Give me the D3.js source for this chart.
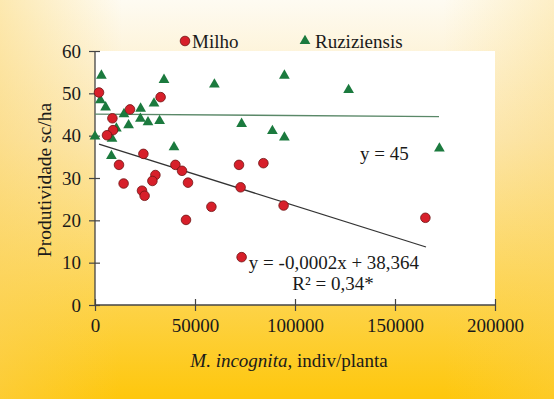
<!DOCTYPE html>
<html>
<head>
<meta charset="utf-8">
<script src="https://cdn.jsdelivr.net/npm/d3@7"></script>
<style>
  body { margin: 0; }
  text { font-family: "Liberation Serif", "Times New Roman", serif; fill: #1a1a1a; }
</style>
</head>
<body>
<div id="container"></div>
<script>
// Produtividade x M. incognita (Milho vs Ruziziensis)

const milhoX = [2000, 32800, 17500, 8700, 9000, 6000, 24200, 12000, 40200, 43500, 14300, 30200,
    28700, 23500, 24800, 45500, 46500, 72000, 84200, 72800, 94300, 58200, 73300, 165200]
const milhoY = [50.2, 49.1, 46.2, 44.1, 41.3, 40.1, 35.7, 33.1, 33.1, 31.7, 28.7, 30.7,
    29.3, 27.0, 25.8, 20.1, 28.9, 33.1, 33.5, 27.8, 23.5, 23.2, 11.3, 20.6]

const ruziX = [3200, 34500, 2700, 5300, 14500, 22800, 29500, 22700, 26500, 32300, 16800, 10700,
    0, 8500, 39500, 8200, 59700, 94700, 73300, 88700, 94700, 126800, 172200]
const ruziY = [54.2, 53.2, 48.4, 46.7, 45.1, 46.4, 47.6, 44.0, 43.2, 43.5, 42.5, 41.7,
    39.8, 39.3, 37.3, 35.2, 52.1, 54.2, 42.8, 41.1, 39.6, 50.8, 37.0]

// trend line end points
const milhoTrend = [[2000, 38.0], [165500, 13.7]]
const ruziTrend = [[0, 45.1], [172000, 44.5]]

const xTicks = [0, 50000, 100000, 150000, 200000]
const yTicks = [0, 10, 20, 30, 40, 50, 60]

const width = 554,
    height = 399
const plot = { left: 95, right: 495, top: 51, bottom: 305 }
const fontSize = "19px"

const svg = d3.select("#container").append("svg")
    .attr("width", width)
    .attr("height", height)

const defs = svg.append("defs")
const bg = defs.append("linearGradient").attr("id", "bg")
    .attr("x1", 0).attr("y1", 0).attr("x2", 0).attr("y2", 1)
bg.append("stop").attr("offset", "0%").attr("stop-color", "#fefbf2")
bg.append("stop").attr("offset", "35%").attr("stop-color", "#fce8b4")
bg.append("stop").attr("offset", "70%").attr("stop-color", "#fdd658")
bg.append("stop").attr("offset", "100%").attr("stop-color", "#fec70c")

const side = defs.append("linearGradient").attr("id", "side")
    .attr("x1", 0).attr("y1", 0).attr("x2", 1).attr("y2", 0)
side.append("stop").attr("offset", "0%").attr("stop-color", "#fbd260").attr("stop-opacity", 0.45)
side.append("stop").attr("offset", "22%").attr("stop-color", "#fbd260").attr("stop-opacity", 0)
side.append("stop").attr("offset", "80%").attr("stop-color", "#fbd260").attr("stop-opacity", 0)
side.append("stop").attr("offset", "100%").attr("stop-color", "#fbd260").attr("stop-opacity", 0.3)

svg.append("rect").attr("width", width).attr("height", height).attr("fill", "url(#bg)")
svg.append("rect").attr("width", width).attr("height", height).attr("fill", "url(#side)")

const x = d3.scaleLinear().domain([0, 200000]).range([plot.left, plot.right])
const y = d3.scaleLinear().domain([0, 60]).range([plot.bottom, plot.top])

svg.append("rect")
    .attr("x", plot.left).attr("y", plot.top)
    .attr("width", plot.right - plot.left).attr("height", plot.bottom - plot.top)
    .attr("fill", "white")

// axes
const xAxis = svg.append("g")
    .attr("transform", `translate(0,${plot.bottom})`)
    .call(d3.axisBottom(x).tickValues(xTicks).tickFormat(d3.format("d")).tickSize(6).tickPadding(8))
xAxis.selectAll(".tick line").attr("y1", -6)

const yAxis = svg.append("g")
    .attr("transform", `translate(${plot.left},0)`)
    .call(d3.axisLeft(y).tickValues(yTicks).tickSize(6).tickPadding(8))
yAxis.selectAll(".tick line").attr("x1", 5)

svg.selectAll(".domain").attr("stroke", "#444").attr("stroke-width", 1.3)
svg.selectAll(".tick line").attr("stroke", "#444").attr("stroke-width", 1.2)
svg.selectAll(".tick text")
    .style("font-family", "'Liberation Serif', 'Times New Roman', serif")
    .style("font-size", fontSize)
    .attr("fill", "#1a1a1a")
xAxis.selectAll(".domain").attr("d", `M${plot.left},0H${plot.right}`)
yAxis.selectAll(".domain").attr("d", `M0,${plot.bottom}V${plot.top}`)

// trend lines
const line = d3.line().x(d => x(d[0])).y(d => y(d[1]))
svg.append("path").datum(ruziTrend).attr("d", line)
    .attr("stroke", "#5a8868").attr("stroke-width", 1.3).attr("fill", "none")
svg.append("path").datum(milhoTrend).attr("d", line)
    .attr("stroke", "#333").attr("stroke-width", 1.3).attr("fill", "none")

// points
const tri = d3.symbol().type(d3.symbolTriangle).size(50)
svg.append("g").selectAll("path")
    .data(d3.zip(ruziX, ruziY))
    .enter().append("path")
    .attr("d", tri)
    .attr("transform", d => `translate(${x(d[0])},${y(d[1])})`)
    .attr("fill", "#1b7a3e")

svg.append("g").selectAll("circle")
    .data(d3.zip(milhoX, milhoY))
    .enter().append("circle")
    .attr("cx", d => x(d[0]))
    .attr("cy", d => y(d[1]))
    .attr("r", 4.8)
    .attr("fill", "#d71f2a")
    .attr("stroke", "#6e1414")
    .attr("stroke-width", 0.8)

// legend
const legend = svg.append("g").style("font-size", fontSize)
legend.append("circle").attr("cx", 185).attr("cy", 41).attr("r", 4.8)
    .attr("fill", "#d71f2a").attr("stroke", "#6e1414").attr("stroke-width", 0.8)
legend.append("text").attr("x", 192).attr("y", 48).text("Milho")
legend.append("path").attr("d", tri).attr("transform", "translate(305,41)").attr("fill", "#1b7a3e")
legend.append("text").attr("x", 315).attr("y", 48).text("Ruziziensis")

// equations
svg.append("text").attr("x", 360).attr("y", 160).style("font-size", fontSize).text("y = 45")
svg.append("text").attr("x", 334).attr("y", 269).attr("text-anchor", "middle")
    .style("font-size", fontSize).text("y = -0,0002x + 38,364")
svg.append("text").attr("x", 333).attr("y", 290).attr("text-anchor", "middle")
    .style("font-size", fontSize).text("R² = 0,34*")

// axis titles
svg.append("text")
    .attr("transform", `translate(51,180) rotate(-90)`)
    .attr("text-anchor", "middle")
    .style("font-size", "19.5px")
    .text("Produtividade sc/ha")

const xt = svg.append("text").attr("x", 289).attr("y", 367).attr("text-anchor", "middle")
    .style("font-size", fontSize)
xt.append("tspan").style("font-style", "italic").text("M. incognita")
xt.append("tspan").text(", indiv/planta")
</script>
</body>
</html>
